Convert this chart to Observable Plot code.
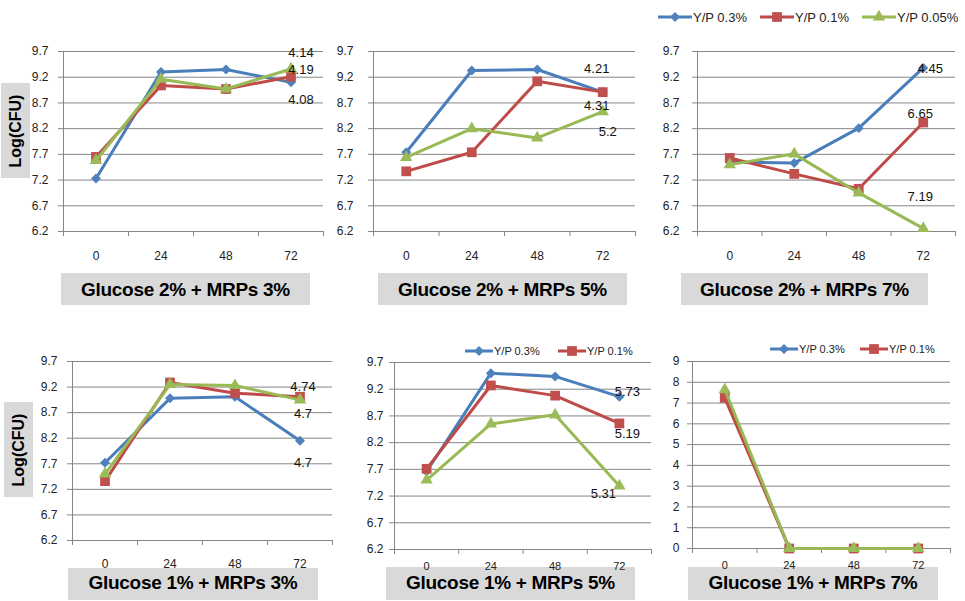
<!DOCTYPE html>
<html><head><meta charset="utf-8">
<script src="https://cdn.jsdelivr.net/npm/d3@7"></script>
<script src="https://cdn.jsdelivr.net/npm/@observablehq/plot@0.6"></script>
<style>
body{margin:0;background:#fff;}
#chart{position:relative;width:965px;height:601px;overflow:hidden;font-family:"Liberation Sans",Arial,sans-serif;background:#fff;}
#chart svg.plot-panel{position:absolute;z-index:1;}
.box{position:absolute;z-index:0;background:#d9d9d9;color:#000;font-weight:bold;font-size:19px;letter-spacing:-0.3px;text-align:center;white-space:nowrap;line-height:16px;}
.ylab{position:absolute;background:#d9d9d9;}
.ylab span{position:absolute;left:50%;top:50%;transform:translate(-50%,-50%) rotate(-90deg);font-weight:bold;font-size:16px;white-space:nowrap;color:#000;}
.leg{position:absolute;z-index:2;display:flex;align-items:center;white-space:nowrap;color:#222;}
</style></head><body><div id="chart"></div>
<script>
// ---------- data ----------
const times = [0, 24, 48, 72];
const seriesNames = ["Y/P 0.3%", "Y/P 0.1%", "Y/P 0.05%"];
const panelTitles = ["Glucose 2% + MRPs 3%", "Glucose 2% + MRPs 5%", "Glucose 2% + MRPs 7%",
                     "Glucose 1% + MRPs 3%", "Glucose 1% + MRPs 5%", "Glucose 1% + MRPs 7%"];
const yAxisTitle = "Log(CFU)";
const logTicks = [6.2, 6.7, 7.2, 7.7, 8.2, 8.7, 9.2, 9.7];
const countTicks = [0, 1, 2, 3, 4, 5, 6, 7, 8, 9];

const p1_yp03 = [7.23, 9.30, 9.35, 9.10];
const p1_yp01 = [7.65, 9.04, 8.97, 9.21];
const p1_yp005 = [7.58, 9.16, 8.97, 9.36];
const p1_labels = ["4.14", "4.19", "4.08"];

const p2_yp03 = [7.74, 9.33, 9.35, 8.91];
const p2_yp01 = [7.37, 7.74, 9.12, 8.91];
const p2_yp005 = [7.64, 8.20, 8.02, 8.53];
const p2_labels = ["4.21", "4.31", "5.2"];

const p3_yp03 = [7.55, 7.53, 8.21, 9.38];
const p3_yp01 = [7.63, 7.32, 7.03, 8.32];
const p3_yp005 = [7.50, 7.71, 6.95, 6.26];
const p3_labels = ["4.45", "6.65", "7.19"];

const p4_yp03 = [7.72, 8.98, 9.01, 8.15];
const p4_yp01 = [7.36, 9.29, 9.08, 9.01];
const p4_yp005 = [7.50, 9.25, 9.23, 8.95];
const p4_labels = ["4.74", "4.7", "4.7"];

const p5_yp03 = [7.66, 9.50, 9.44, 9.06];
const p5_yp01 = [7.71, 9.27, 9.08, 8.56];
const p5_yp005 = [7.50, 8.55, 8.72, 7.39];
const p5_labels = ["5.73", "5.19", "5.31"];

const p6_yp03 = [7.50, 0, 0, 0];
const p6_yp01 = [7.25, 0, 0, 0];
const p6_yp005 = [7.65, 0, 0, 0];

// ---------- styles / layout ----------
const seriesStyle = [
  {stroke: "#4a7ebb", fill: "#4f81bd", symbol: "diamond2", r: 4.5},
  {stroke: "#be4b48", fill: "#c0504d", symbol: "square", r: 5.5},
  {stroke: "#98b954", fill: "#9bbb59", symbol: "triangle", r: 4.6}
];
const d3sym = {diamond2: d3.symbolDiamond2, square: d3.symbolSquare, triangle: d3.symbolTriangle};

const panels = [
  {series: [p1_yp03, p1_yp01, p1_yp005], labels: p1_labels,
   labelAt: [[2, 10, -16], [1, 10, -7], [0, 10, 17]],
   yTicks: logTicks, fmt: ".1f", left: 0, top: 0, width: 330, height: 275,
   mL: 63, mR: 7, mT: 51, mB: 44, yPad: 10, xPad: 20, xFs: 12,
   box: [61, 273, 249, 32, 9]},
  {series: [p2_yp03, p2_yp01, p2_yp005], labels: p2_labels,
   labelAt: [[0, -6, -23], [1, -6, 14], [2, 5, 20]],
   yTicks: logTicks, fmt: ".1f", left: 330, top: 0, width: 310, height: 275,
   mL: 43, mR: 5, mT: 51, mB: 44, yPad: 15, xPad: 20, xFs: 12,
   box: [378, 273, 249, 32, 9]},
  {series: [p3_yp03, p3_yp01, p3_yp005], labels: p3_labels,
   labelAt: [[0, 7, 1], [1, -3, -9], [2, -3, -32]],
   yTicks: logTicks, fmt: ".1f", left: 640, top: 0, width: 325, height: 275,
   mL: 57, mR: 10, mT: 51, mB: 44, yPad: 13, xPad: 20, xFs: 12,
   box: [681, 273, 247, 32, 9]},
  {series: [p4_yp03, p4_yp01, p4_yp005], labels: p4_labels,
   labelAt: [[1, 3, -10], [2, 3, 14], [0, 3, 22]],
   yTicks: logTicks, fmt: ".1f", left: 0, top: 310, width: 340, height: 270,
   mL: 72, mR: 8, mT: 51, mB: 40, yPad: 10, xPad: 19, xFs: 12,
   box: [68, 568, 250, 32, 7]},
  {series: [p5_yp03, p5_yp01, p5_yp005], labels: p5_labels,
   labelAt: [[0, 8, -5], [1, 8, 10], [2, -16, 8]],
   yTicks: logTicks, fmt: ".1f", left: 340, top: 310, width: 315, height: 270,
   mL: 54, mR: 4, mT: 52, mB: 31, yPad: 6, xPad: 13, xFs: 11,
   box: [386, 567, 249, 33, 8]},
  {series: [p6_yp03, p6_yp01, p6_yp005], labels: [],
   labelAt: [],
   yTicks: countTicks, fmt: "d", left: 655, top: 310, width: 305, height: 270,
   mL: 37, mR: 10, mT: 51, mB: 32, yPad: 8, xPad: 13, xFs: 11,
   box: [688, 567, 250, 33, 8]}
];

const xDomain = [-12, 84];
const xBounds = [-12, 12, 36, 60, 84];
const gray = "#868686";

const chart = document.getElementById("chart");

panels.forEach((p, pi) => {
  const rows = p.series.map(arr => times.map((t, i) => ({t, v: arr[i]})));
  const labelRows = p.labels.map((txt, i) => {
    const [si, dx, dy] = p.labelAt[i];
    return {t: times[3], v: p.series[si][3], text: txt, dx, dy};
  });
  const marks = [
    Plot.gridY(p.yTicks, {stroke: gray, strokeOpacity: 1}),
    Plot.ruleX([xDomain[0]], {stroke: gray}),
    Plot.axisY(p.yTicks, {tickSize: 5, tickPadding: p.yPad, tickFormat: d3.format(p.fmt), stroke: gray, fill: "#222", label: null, fontSize: 12}),
    Plot.axisX(times, {tickSize: 0, tickPadding: p.xPad, tickFormat: d => String(d), fill: "#222", label: null, fontSize: p.xFs}),
    Plot.axisX(xBounds, {tickSize: 5, tickFormat: () => "", stroke: gray, label: null})
  ];
  rows.forEach((r, si) => {
    const st = seriesStyle[si];
    marks.push(Plot.line(r, {x: "t", y: "v", stroke: st.stroke, strokeWidth: 3}));
    marks.push(Plot.dot(r, {x: "t", y: "v", symbol: () => st.symbol, fill: st.fill, stroke: "none", r: st.r}));
  });
  labelRows.forEach(l => {
    marks.push(Plot.text([l], {x: "t", y: "v", text: "text", dx: l.dx, dy: l.dy, fontSize: 13, fill: "#111"}));
  });
  const svg = Plot.plot({
    width: p.width, height: p.height,
    marginLeft: p.mL, marginRight: p.mR, marginTop: p.mT, marginBottom: p.mB,
    x: {domain: xDomain, axis: null},
    y: {domain: [p.yTicks[0], p.yTicks[p.yTicks.length - 1]], axis: null},
    symbol: {type: "identity"},
    style: {fontFamily: "'Liberation Sans', Arial, sans-serif", fontSize: "12px", background: "transparent", overflow: "visible", color: "#222"},
    marks
  });
  svg.classList.add("plot-panel");
  svg.style.left = p.left + "px";
  svg.style.top = p.top + "px";
  chart.appendChild(svg);

  const [bx, by, bw, bh, tp] = p.box;
  const box = document.createElement("div");
  box.className = "box";
  box.style.cssText += `left:${bx}px;top:${by}px;width:${bw}px;height:${bh - tp}px;padding-top:${tp}px;`;
  box.textContent = panelTitles[pi];
  chart.appendChild(box);
});

// y-axis titles
[[1, 83, 29, 95], [4, 402, 29, 95]].forEach(([x, y, w, h]) => {
  const d = document.createElement("div");
  d.className = "ylab";
  d.style.cssText += `left:${x}px;top:${y}px;width:${w}px;height:${h}px;`;
  const s = document.createElement("span");
  s.textContent = yAxisTitle;
  d.appendChild(s);
  chart.appendChild(d);
});

// legends
function legendItem(si, x, yc, fs, sw) {
  const st = seriesStyle[si];
  const d = document.createElement("div");
  d.className = "leg";
  d.style.cssText += `left:${x}px;top:${yc - 8}px;height:16px;font-size:${fs}px;`;
  const path = d3.symbol(d3sym[st.symbol], st.r * st.r * Math.PI)();
  d.innerHTML = `<svg width="${sw}" height="16" style="margin-right:1px"><line x1="0" x2="${sw}" y1="8" y2="8" stroke="${st.stroke}" stroke-width="3"/><path d="${path}" transform="translate(${sw / 2},8)" fill="${st.fill}"/></svg><span>${seriesNames[si]}</span>`;
  chart.appendChild(d);
}
[[0, 658], [1, 760], [2, 862]].forEach(([si, x]) => legendItem(si, x, 17, 13, 34));
[[0, 465], [1, 558]].forEach(([si, x]) => legendItem(si, x, 351, 11, 28));
[[0, 770], [1, 860]].forEach(([si, x]) => legendItem(si, x, 349, 11, 28));
</script></body></html>
